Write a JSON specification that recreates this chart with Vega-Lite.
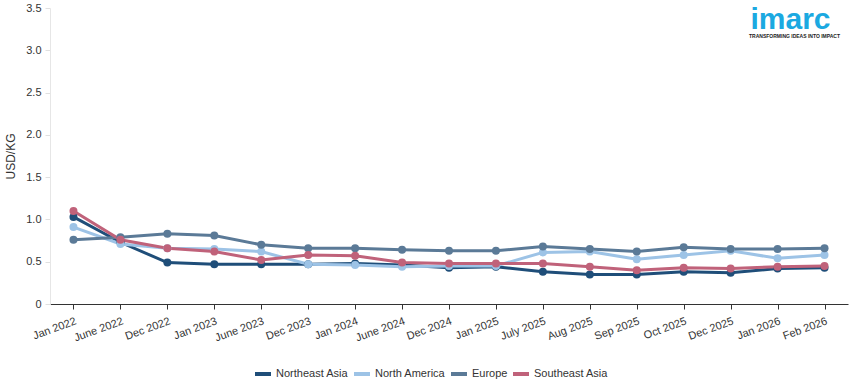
{
  "$schema": "https://vega.github.io/schema/vega-lite/v6.json",
  "width": 798,
  "height": 296,
  "autosize": {"type": "none"},
  "padding": {"left": 50, "top": 8, "right": 7, "bottom": 86},
  "background": "white",
  "config": {
    "view": {"stroke": null},
    "font": "Liberation Sans",
    "axis": {"labelFont": "Liberation Sans", "titleFont": "Liberation Sans", "labelColor": "#333333", "titleColor": "#333333", "labelFontSize": 11, "grid": false},
    "legend": {"labelFont": "Liberation Sans", "labelFontSize": 11, "labelColor": "#333333"}
  },
  "datasets": {
    "prices": [
      {"month": "Jan 2022", "region": "Northeast Asia", "price": 1.03},
      {"month": "June 2022", "region": "Northeast Asia", "price": 0.73},
      {"month": "Dec 2022", "region": "Northeast Asia", "price": 0.49},
      {"month": "Jan 2023", "region": "Northeast Asia", "price": 0.47},
      {"month": "June 2023", "region": "Northeast Asia", "price": 0.47},
      {"month": "Dec 2023", "region": "Northeast Asia", "price": 0.47},
      {"month": "Jan 2024", "region": "Northeast Asia", "price": 0.48},
      {"month": "June 2024", "region": "Northeast Asia", "price": 0.46},
      {"month": "Dec 2024", "region": "Northeast Asia", "price": 0.43},
      {"month": "Jan 2025", "region": "Northeast Asia", "price": 0.44},
      {"month": "July 2025", "region": "Northeast Asia", "price": 0.38},
      {"month": "Aug 2025", "region": "Northeast Asia", "price": 0.35},
      {"month": "Sep 2025", "region": "Northeast Asia", "price": 0.35},
      {"month": "Oct 2025", "region": "Northeast Asia", "price": 0.38},
      {"month": "Dec 2025", "region": "Northeast Asia", "price": 0.37},
      {"month": "Jan 2026", "region": "Northeast Asia", "price": 0.42},
      {"month": "Feb 2026", "region": "Northeast Asia", "price": 0.43},
      {"month": "Jan 2022", "region": "North America", "price": 0.91},
      {"month": "June 2022", "region": "North America", "price": 0.71},
      {"month": "Dec 2022", "region": "North America", "price": 0.66},
      {"month": "Jan 2023", "region": "North America", "price": 0.65},
      {"month": "June 2023", "region": "North America", "price": 0.62},
      {"month": "Dec 2023", "region": "North America", "price": 0.47},
      {"month": "Jan 2024", "region": "North America", "price": 0.46},
      {"month": "June 2024", "region": "North America", "price": 0.44},
      {"month": "Dec 2024", "region": "North America", "price": 0.45},
      {"month": "Jan 2025", "region": "North America", "price": 0.45},
      {"month": "July 2025", "region": "North America", "price": 0.61},
      {"month": "Aug 2025", "region": "North America", "price": 0.62},
      {"month": "Sep 2025", "region": "North America", "price": 0.53},
      {"month": "Oct 2025", "region": "North America", "price": 0.58},
      {"month": "Dec 2025", "region": "North America", "price": 0.63},
      {"month": "Jan 2026", "region": "North America", "price": 0.54},
      {"month": "Feb 2026", "region": "North America", "price": 0.58},
      {"month": "Jan 2022", "region": "Europe", "price": 0.76},
      {"month": "June 2022", "region": "Europe", "price": 0.79},
      {"month": "Dec 2022", "region": "Europe", "price": 0.83},
      {"month": "Jan 2023", "region": "Europe", "price": 0.81},
      {"month": "June 2023", "region": "Europe", "price": 0.70},
      {"month": "Dec 2023", "region": "Europe", "price": 0.66},
      {"month": "Jan 2024", "region": "Europe", "price": 0.66},
      {"month": "June 2024", "region": "Europe", "price": 0.64},
      {"month": "Dec 2024", "region": "Europe", "price": 0.63},
      {"month": "Jan 2025", "region": "Europe", "price": 0.63},
      {"month": "July 2025", "region": "Europe", "price": 0.68},
      {"month": "Aug 2025", "region": "Europe", "price": 0.65},
      {"month": "Sep 2025", "region": "Europe", "price": 0.62},
      {"month": "Oct 2025", "region": "Europe", "price": 0.67},
      {"month": "Dec 2025", "region": "Europe", "price": 0.65},
      {"month": "Jan 2026", "region": "Europe", "price": 0.65},
      {"month": "Feb 2026", "region": "Europe", "price": 0.66},
      {"month": "Jan 2022", "region": "Southeast Asia", "price": 1.10},
      {"month": "June 2022", "region": "Southeast Asia", "price": 0.76},
      {"month": "Dec 2022", "region": "Southeast Asia", "price": 0.66},
      {"month": "Jan 2023", "region": "Southeast Asia", "price": 0.62},
      {"month": "June 2023", "region": "Southeast Asia", "price": 0.52},
      {"month": "Dec 2023", "region": "Southeast Asia", "price": 0.58},
      {"month": "Jan 2024", "region": "Southeast Asia", "price": 0.57},
      {"month": "June 2024", "region": "Southeast Asia", "price": 0.49},
      {"month": "Dec 2024", "region": "Southeast Asia", "price": 0.48},
      {"month": "Jan 2025", "region": "Southeast Asia", "price": 0.48},
      {"month": "July 2025", "region": "Southeast Asia", "price": 0.48},
      {"month": "Aug 2025", "region": "Southeast Asia", "price": 0.44},
      {"month": "Sep 2025", "region": "Southeast Asia", "price": 0.40},
      {"month": "Oct 2025", "region": "Southeast Asia", "price": 0.43},
      {"month": "Dec 2025", "region": "Southeast Asia", "price": 0.42},
      {"month": "Jan 2026", "region": "Southeast Asia", "price": 0.44},
      {"month": "Feb 2026", "region": "Southeast Asia", "price": 0.45}
    ]
  },
  "layer": [
    {
      "data": {"name": "prices"},
      "mark": {"type": "line", "strokeWidth": 3, "point": {"filled": true, "size": 64}},
      "encoding": {
        "x": {
          "field": "month", "type": "ordinal", "sort": null,
          "scale": {"type": "point", "padding": 0.5},
          "axis": {"title": null, "labelAngle": -20, "domainColor": "#333333", "tickColor": "#333333", "tickSize": 5, "labelPadding": 6}
        },
        "y": {
          "field": "price", "type": "quantitative",
          "scale": {"domain": [0, 3.5], "nice": false},
          "axis": {"title": "USD/KG", "titleFontSize": 12, "titleFontWeight": "normal", "values": [0, 0.5, 1, 1.5, 2, 2.5, 3, 3.5], "labelExpr": "datum.value == 0 ? '0' : format(datum.value, '.1f')", "domainColor": "#e6e6e6", "tickColor": "#e0e0e0", "tickSize": 5, "labelPadding": 4, "titlePadding": 8}
        },
        "color": {
          "field": "region", "type": "nominal",
          "scale": {"domain": ["Northeast Asia", "North America", "Europe", "Southeast Asia"], "range": ["#1f4e79", "#9dc3e6", "#5b7a97", "#c0627a"]},
          "legend": {"title": null, "orient": "none", "legendX": 203, "legendY": 356, "direction": "horizontal", "gridAlign": "none", "symbolType": "stroke", "symbolStrokeWidth": 4, "symbolSize": 256, "columnPadding": -3, "labelOffset": 3}
        }
      }
    },
    {
      "data": {"values": [{"logo": "imarc"}]},
      "mark": {"type": "text", "text": "imarc", "font": "Liberation Sans", "fontWeight": "bold", "fontSize": 30, "color": "#1ba9e1", "align": "center", "baseline": "alphabetic", "dx": -34},
      "encoding": {"x": {"datum": "Feb 2026", "type": "ordinal"}, "y": {"datum": 3.25, "type": "quantitative"}}
    },
    {
      "data": {"values": [{"logo": "tagline"}]},
      "mark": {"type": "text", "text": "TRANSFORMING IDEAS INTO IMPACT", "font": "Liberation Sans", "fontWeight": "bold", "fontSize": 5, "color": "#222222", "align": "center", "baseline": "alphabetic", "dx": -30},
      "encoding": {"x": {"datum": "Feb 2026", "type": "ordinal"}, "y": {"datum": 3.15, "type": "quantitative"}}
    }
  ]
}
